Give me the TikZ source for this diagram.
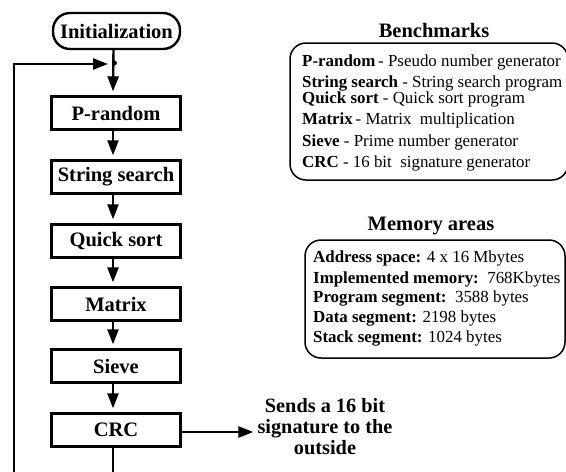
\documentclass[tikz,border=0pt]{standalone}
\usepackage{fontspec}
\setmainfont{Liberation Serif}
\usetikzlibrary{arrows.meta}
\begin{document}
\begin{tikzpicture}[x=1pt,y=-1pt,
  flow/.style={draw, line width=2.4pt, minimum width=129pt, minimum height=33pt, inner sep=0pt, font=\fontsize{20.5}{24}\selectfont\bfseries},
  arr/.style={line width=2.4pt, -{Triangle[length=15pt,width=11pt]}},
  lst/.style={anchor=base west, inner sep=0pt, font=\fontsize{16.9}{20}\selectfont},
  ttl/.style={anchor=base, inner sep=0pt, font=\fontsize{20.5}{24}\selectfont\bfseries},
  sendtxt/.style={anchor=base, inner sep=0pt, font=\fontsize{20.3}{22}\selectfont\bfseries},
  panel/.style={draw, line width=1.5pt, rounded corners=16pt}
]
\useasboundingbox (0,0) rectangle (566,472);
\clip (0,0) rectangle (566,472);

% flow chart
\node[flow, rounded corners=17pt, minimum width=127pt, minimum height=36pt] (init) at (116.5,31) {Initialization};
\node[flow] (prand) at (116,113) {P-random};
\node[flow] (strs) at (116,177) {String search};
\node[flow] (qsort) at (116,241) {Quick sort};
\node[flow] (matrix) at (116,304) {Matrix};
\node[flow] (sieve) at (116,366) {Sieve};
\node[flow] (crc) at (116,430) {CRC};

\coordinate (j) at (113,64);
\coordinate (lb) at (14,490);

\draw[arr] ([xshift=-3pt]init.south) -- ([xshift=-3pt,yshift=4pt]prand.north);
\draw[arr] ([xshift=-3pt]prand.south) -- ([xshift=-3pt,yshift=4pt]strs.north);
\draw[arr] ([xshift=-3pt]strs.south) -- ([xshift=-3pt,yshift=4pt]qsort.north);
\draw[arr] ([xshift=-3pt]qsort.south) -- ([xshift=-3pt,yshift=4pt]matrix.north);
\draw[arr] ([xshift=-3pt]matrix.south) -- ([xshift=-3pt,yshift=4pt]sieve.north);
\draw[arr] ([xshift=-3pt]sieve.south) -- ([xshift=-3pt,yshift=4pt]crc.north);

\draw[arr, shorten >=5pt] ([xshift=-3pt]crc.south) |- (lb) |- (j);
\fill ([xshift=1.5pt,yshift=1pt]j) circle (2.4pt);

% sends
\node[sendtxt] (s1) at (325,412) {Sends a 16 bit};
\node[sendtxt] (s2) at (325,433) {signature to the};
\node[sendtxt] (s3) at (325,454) {outside};
\draw[arr, shorten >=4pt] ([yshift=-2pt]crc.east) -- ([yshift=-2pt]crc.east -| s2.west);

% Benchmarks
\node[ttl] (bt) at (434,37) {Benchmarks};
\draw[panel] (290,43) rectangle (568,180);
\node[lst] (b1) at (302,66) {\textbf{P-random}\,- Pseudo number generator};
\node[lst] (b2) at (302,87) {\textbf{String search} - String search program};
\node[lst] (b3) at (302,103) {\textbf{Quick sort} - Quick sort program};
\node[lst] (b4) at (302,124) {\textbf{Matrix}\,- Matrix\ \ multiplication};
\node[lst] (b5) at (302,146) {\textbf{Sieve} - Prime number generator};
\node[lst] (b6) at (302,167) {\textbf{CRC} - 16 bit\ \ signature generator};

% Memory areas
\node[ttl] (mt) at (431,230) {Memory areas};
\draw[panel] (305,240) rectangle (565,358);
\node[lst] (m1) at (313,262) {\textbf{Address space:} 4 x 16 Mbytes};
\node[lst] (m2) at (313,283) {\textbf{Implemented memory:}\ \ 768Kbytes};
\node[lst] (m3) at (313,302) {\textbf{Program segment:}\ \ 3588 bytes};
\node[lst] (m4) at (313,322) {\textbf{Data segment:} 2198 bytes};
\node[lst] (m5) at (313,342) {\textbf{Stack segment:} 1024 bytes};
\end{tikzpicture}
\end{document}
